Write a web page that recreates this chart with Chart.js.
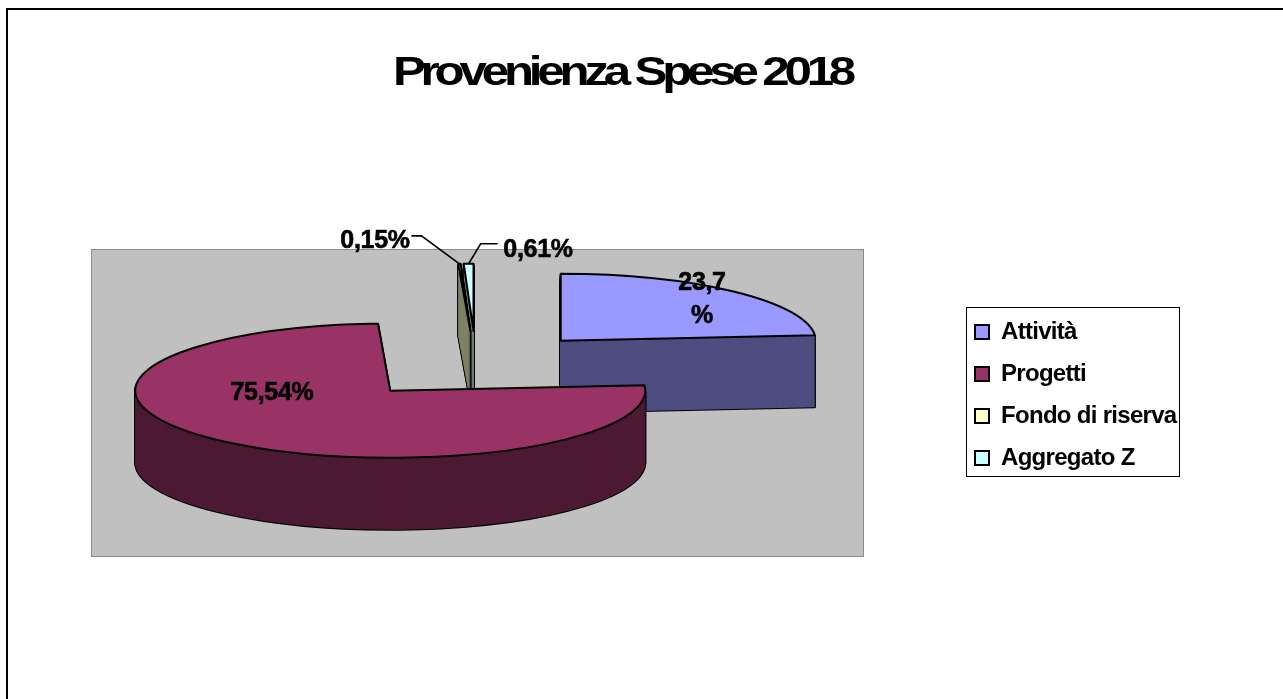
<!DOCTYPE html>
<html>
<head>
<meta charset="utf-8">
<title>Provenienza Spese 2018</title>
<script src="https://cdn.jsdelivr.net/npm/chart.js@4"></script>
<style>
html, body { margin: 0; padding: 0; background: #fff; overflow: hidden; }
#wrap { position: relative; width: 1283px; height: 699px; }
#frame { position: absolute; left: 6px; top: 8px; right: 0; bottom: 0; border-left: 2px solid #000; border-top: 2px solid #000; }
#plot { position: absolute; left: 91px; top: 249px; width: 771px; height: 306px; background: #c0c0c0; border: 1px solid #8c8c8c; }
#legendBox { position: absolute; left: 966px; top: 307px; width: 212px; height: 168px; border: 1.5px solid #000; }
canvas { position: absolute; left: 0; top: 0; }
</style>
</head>
<body>
<div id="wrap">
	<div id="frame"></div>
	<div id="plot"></div>
	<div id="legendBox"></div>
	<canvas id="chart" width="1283" height="699"></canvas>
</div>
<script>
var categories = ["Attività", "Progetti", "Fondo di riserva", "Aggregato Z"];
var values = [23.7, 75.54, 0.15, 0.61];
var valueLabels = [["23,7", "%"], ["75,54%"], ["0,15%"], ["0,61%"]];
var topColors = ["#9999ff", "#993366", "#ffffcc", "#ccffff"];
var sideColors = ["#4d4d80", "#4d1a33", "#808066", "#668080"];

var tilt = 0.263;
var depth = 72;
var pieCenter = {x: 476, y: 365};
var drawOrder = [3, 2, 0, 1];
var fontFamily = "'Liberation Sans', Arial, sans-serif";

// pie is flattened and extruded by hand, the arc geometry still comes from the controller
function slicePath(ctx, chart, arc, down) {
	var p = arc.getProps(["x", "y", "startAngle", "endAngle", "outerRadius"], true);
	var area = chart.chartArea;
	var midX = (area.left + area.right) / 2;
	var midY = (area.top + area.bottom) / 2;
	var mid = (p.startAngle + p.endAngle) / 2;
	var shift = arc.options.offset / 4;
	var cx = p.x + Math.cos(mid) * shift - midX;
	var cy = p.y + Math.sin(mid) * shift - midY;
	ctx.save();
	ctx.translate(pieCenter.x, pieCenter.y + down);
	ctx.scale(1, tilt);
	ctx.beginPath();
	ctx.moveTo(cx, cy);
	ctx.arc(cx, cy, p.outerRadius, p.startAngle, p.endAngle);
	ctx.closePath();
	ctx.restore();
}

function rimPoint(chart, arc) {
	var p = arc.getProps(["x", "y", "startAngle", "endAngle", "outerRadius"], true);
	var area = chart.chartArea;
	var mid = (p.startAngle + p.endAngle) / 2;
	var r = arc.options.offset / 4 + p.outerRadius;
	return {
		x: pieCenter.x + p.x - (area.left + area.right) / 2 + Math.cos(mid) * r,
		y: pieCenter.y + (p.y - (area.top + area.bottom) / 2 + Math.sin(mid) * r) * tilt
	};
}

var pie3d = {
	id: "pie3d",
	afterLayout: function(chart) {
		var legend = chart.legend;
		var w = legend.width, h = legend.height;
		legend.left = 957; legend.top = 302;
		legend.right = legend.left + w; legend.bottom = legend.top + h;
		if (!chart.$spaced) {
			chart.$spaced = true;
			var ctx = chart.ctx;
			var legendDraw = legend.draw, titleDraw = chart.titleBlock.draw;
			legend.draw = function() {
				ctx.save();
				ctx.letterSpacing = "-0.7px";
				legendDraw.apply(legend, arguments);
				ctx.restore();
			};
			// reference title is stretched wide and set very tight
			chart.titleBlock.draw = function() {
				ctx.save();
				ctx.translate(622, 0);
				ctx.scale(1.2, 1);
				ctx.translate(-622, 0);
				ctx.letterSpacing = "-4.3px";
				titleDraw.apply(chart.titleBlock, arguments);
				ctx.restore();
			};
		}
	},
	beforeDatasetDraw: function(chart) {
		var ctx = chart.ctx;
		var arcs = chart.getDatasetMeta(0).data;
		ctx.save();
		ctx.lineJoin = "round";
		drawOrder.forEach(function(i) {
			var arc = arcs[i], k;
			ctx.strokeStyle = "#000";
			ctx.lineWidth = 2;
			for (k = depth; k > 0; k -= 1) {
				slicePath(ctx, chart, arc, k);
				ctx.stroke();
			}
			ctx.fillStyle = sideColors[i];
			for (k = depth; k > 0; k -= 1) {
				slicePath(ctx, chart, arc, k);
				ctx.fill();
			}
			slicePath(ctx, chart, arc, 0);
			ctx.fillStyle = topColors[i];
			ctx.fill();
			ctx.stroke();
		});
		ctx.restore();
		return false;
	},
	afterDatasetsDraw: function(chart) {
		var ctx = chart.ctx;
		var arcs = chart.getDatasetMeta(0).data;
		var labelAt = [{x: 702, y: 283}, {x: 272, y: 393}, {x: 375, y: 241}, {x: 538, y: 250}];
		var elbows = {2: [[-38, -28], [-48, -28]], 3: [[12, -20], [29, -20]]};
		ctx.save();
		ctx.strokeStyle = "#000";
		ctx.lineWidth = 1.6;
		Object.keys(elbows).forEach(function(i) {
			var a = rimPoint(chart, arcs[i]);
			ctx.beginPath();
			ctx.moveTo(a.x, a.y);
			elbows[i].forEach(function(e) { ctx.lineTo(a.x + e[0], a.y + e[1]); });
			ctx.stroke();
		});
		ctx.fillStyle = "#000";
		ctx.font = "bold 25px " + fontFamily;
		ctx.letterSpacing = "-0.3px";
		ctx.lineWidth = 0.6;
		ctx.textAlign = "center";
		ctx.textBaseline = "middle";
		valueLabels.forEach(function(lines, i) {
			lines.forEach(function(line, n) {
				ctx.fillText(line, labelAt[i].x, labelAt[i].y + n * 33);
				ctx.strokeText(line, labelAt[i].x, labelAt[i].y + n * 33);
			});
		});
		ctx.restore();
	}
};

new Chart("chart", {
	type: "pie",
	plugins: [pie3d],
	data: {
		labels: categories,
		datasets: [{
			data: values,
			backgroundColor: topColors,
			borderColor: "#000",
			borderWidth: 2,
			offset: [500, 520, 520, 520]
		}]
	},
	options: {
		responsive: false,
		animation: false,
		events: [],
		radius: 255,
		layout: {padding: {right: 39}},
		plugins: {
			tooltip: {enabled: false},
			title: {
				display: true,
				text: "Provenienza Spese 2018",
				color: "#000",
				font: {family: fontFamily, size: 41, weight: "bold"},
				padding: {top: 49, bottom: 20}
			},
			legend: {
				display: true,
				position: "right",
				align: "start",
				labels: {
					color: "#000",
					boxWidth: 14,
					boxHeight: 14,
					padding: 18,
					font: {family: fontFamily, size: 24, weight: "bold"}
				}
			}
		}
	}
});
</script>
</body>
</html>
